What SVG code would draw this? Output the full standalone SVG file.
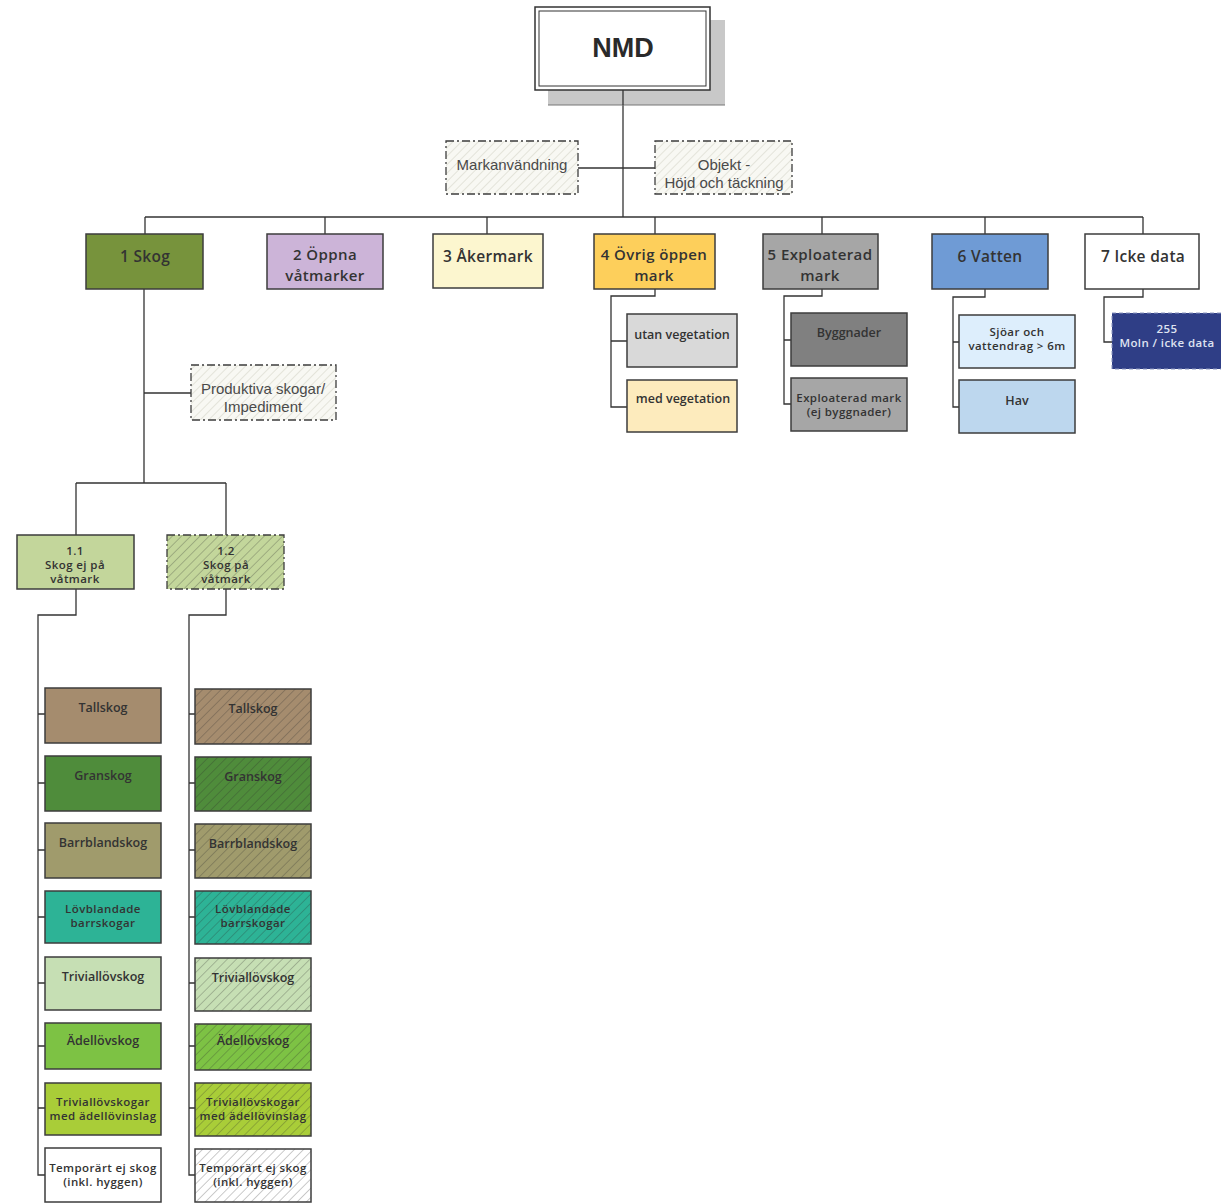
<svg xmlns="http://www.w3.org/2000/svg" width="1221" height="1203" viewBox="0 0 1221 1203">
<defs>
<pattern id="hatch" patternUnits="userSpaceOnUse" width="6.5" height="6.5" patternTransform="rotate(45)">
<line x1="0" y1="0" x2="0" y2="6.5" stroke="#2a2a2a" stroke-opacity="0.45" stroke-width="1.1"/>
</pattern>
<pattern id="hatchLight" patternUnits="userSpaceOnUse" width="6" height="6" patternTransform="rotate(45)">
<line x1="0" y1="0" x2="0" y2="6" stroke="#cfcfc2" stroke-width="1"/>
</pattern>
<style>
.box{stroke:#3d3d3d;stroke-width:1.5}
.dd{stroke:#3d3d3d;stroke-width:1.3;stroke-dasharray:8 3 2 3;fill:none}
.conn{fill:none;stroke:#333;stroke-width:1.3}
.top{font-family:"Open Sans","DejaVu Sans",sans-serif;font-weight:600;font-size:15.5px;letter-spacing:0.3px;fill:#333;text-anchor:middle}
.top2{font-family:"Open Sans","DejaVu Sans",sans-serif;font-weight:600;font-size:15px;letter-spacing:0.4px;fill:#333;text-anchor:middle}
.sub{font-family:"Open Sans","DejaVu Sans",sans-serif;font-weight:600;font-size:12.5px;fill:#333;text-anchor:middle}
.sm{font-family:"Open Sans","DejaVu Sans",sans-serif;font-weight:600;font-size:11.5px;letter-spacing:0.4px;fill:#333;text-anchor:middle}
.ann{font-family:"Liberation Sans",Arial,sans-serif;font-size:15px;fill:#4a4a4a;text-anchor:middle}
.lt{fill:#dfe3f1}
</style>
</defs>
<rect width="1221" height="1203" fill="#ffffff"/>

<g id="connectors">
<path class="conn" d="M623,90 V217"/>
<path class="conn" d="M578,168 H655"/>
<path class="conn" d="M145,217 H1143"/>
<path class="conn" d="M145,217 V234 M325,217 V234 M487,217 V234 M655,217 V234 M822,217 V234 M985,217 V234 M1143,217 V234"/>
<path class="conn" d="M144,289 V483 M144,393 H191 M76,483 H226 M76,483 V535 M226,483 V535"/>
<path class="conn" d="M655,289 V296 H611 V407 H627 M611,341 H627"/>
<path class="conn" d="M822,289 V296 H784 V404 H791 M784,340 H791"/>
<path class="conn" d="M985,289 V297 H953 V407 H959 M953,342 H959"/>
<path class="conn" d="M1143,289 V297 H1104 V342 H1112"/>
<path class="conn" d="M76,589 V615 H38 V1175 H45 M38,714 H45 M38,783 H45 M38,850 H45 M38,917 H45 M38,983 H45 M38,1046 H45 M38,1108 H45"/>
<path class="conn" d="M226,589 V615 H189 V1175 H195 M189,714 H195 M189,783 H195 M189,850 H195 M189,917 H195 M189,983 H195 M189,1046 H195 M189,1108 H195"/>
</g>

<g id="nmd">
<rect x="548" y="20" width="177" height="85" fill="#c8c8c8"/>
<line x1="548" y1="105" x2="725" y2="105" stroke="#777" stroke-width="1.2"/>
<rect x="535" y="7" width="175" height="83" fill="#fff" stroke="#333" stroke-width="1.5"/>
<rect x="539" y="11" width="167" height="75" fill="none" stroke="#333" stroke-width="1"/>
<text x="623" y="57" font-family="Liberation Sans,Arial,sans-serif" font-weight="bold" font-size="27" fill="#2a2a2a" text-anchor="middle">NMD</text>
<line x1="623" y1="90" x2="623" y2="105" stroke="#333" stroke-width="1.3"/>
</g>

<g id="markanvandning">
<rect x="446" y="141" width="132" height="53" fill="#f8f8f3"/>
<rect x="446" y="141" width="132" height="53" fill="url(#hatchLight)"/>
<rect x="446" y="141" width="132" height="53" class="dd"/>
<text class="ann" x="512" y="170">Markanvändning</text>
</g>
<g id="objekt">
<rect x="655" y="141" width="137" height="53" fill="#f8f8f3"/>
<rect x="655" y="141" width="137" height="53" fill="url(#hatchLight)"/>
<rect x="655" y="141" width="137" height="53" class="dd"/>
<text class="ann" x="724" y="170">Objekt -</text>
<text class="ann" x="724" y="188">Höjd och täckning</text>
</g>

<g id="n1"><rect class="box" x="86" y="234" width="117" height="55" fill="#77933c"/><text class="top" x="145" y="262">1 Skog</text></g>
<g id="n2"><rect class="box" x="267" y="234" width="116" height="55" fill="#ccb4d8"/><text class="top2" x="325" y="260">2 Öppna</text><text class="top2" x="325" y="280.5">våtmarker</text></g>
<g id="n3"><rect class="box" x="433" y="234" width="110" height="54" fill="#fcf6cf"/><text class="top" x="488" y="262">3 Åkermark</text></g>
<g id="n4"><rect class="box" x="594" y="234" width="121" height="55" fill="#fdcf5b"/><text class="top2" x="654" y="260">4 Övrig öppen</text><text class="top2" x="654" y="280.5">mark</text></g>
<g id="n5"><rect class="box" x="763" y="234" width="115" height="55" fill="#a6a6a6"/><text class="top2" x="820" y="260">5 Exploaterad</text><text class="top2" x="820" y="280.5">mark</text></g>
<g id="n6"><rect class="box" x="932" y="234" width="116" height="55" fill="#6f9bd5"/><text class="top" x="990" y="262">6 Vatten</text></g>
<g id="n7"><rect class="box" x="1085" y="234" width="114" height="55" fill="#ffffff"/><text class="top" x="1143" y="262">7 Icke data</text></g>

<g id="utan"><rect class="box" x="627" y="314" width="110" height="53" fill="#d9d9d9"/><text class="sub" x="682" y="339">utan vegetation</text></g>
<g id="med"><rect class="box" x="627" y="380" width="110" height="52" fill="#fdebbd"/><text class="sub" x="683" y="403">med vegetation</text></g>
<g id="byggnader"><rect class="box" x="791" y="313" width="116" height="53" fill="#808080"/><text class="sub" x="849" y="337">Byggnader</text></g>
<g id="exploaterad"><rect class="box" x="791" y="378" width="116" height="53" fill="#a6a6a6"/><text class="sm" x="849" y="402" letter-spacing="0">Exploaterad mark</text><text class="sm" x="849" y="416">(ej byggnader)</text></g>
<g id="sjoar"><rect class="box" x="959" y="315" width="116" height="53" fill="#ddeefc"/><text class="sm" x="1017" y="336">Sjöar och</text><text class="sm" x="1017" y="350">vattendrag  &gt; 6m</text></g>
<g id="hav"><rect class="box" x="959" y="380" width="116" height="53" fill="#bdd7ee"/><text class="sub" x="1017" y="405">Hav</text></g>
<g id="n255"><rect x="1112" y="313" width="112" height="56" fill="#2f3e86" stroke="#8c96c0" stroke-width="1" stroke-dasharray="4 3"/><text class="sm lt" x="1167" y="333">255</text><text class="sm lt" x="1167" y="347" letter-spacing="0">Moln / icke data</text></g>

<g id="produktiva">
<rect x="191" y="365" width="145" height="55" fill="#f8f8f3"/>
<rect x="191" y="365" width="145" height="55" fill="url(#hatchLight)"/>
<rect x="191" y="365" width="145" height="55" class="dd"/>
<text class="ann" x="263" y="394">Produktiva skogar/</text>
<text class="ann" x="263" y="412">Impediment</text>
</g>

<g id="n11"><rect class="box" x="17" y="535" width="117" height="54" fill="#c3d69b"/><text class="sm" x="75" y="555">1.1</text><text class="sm" x="75" y="569">Skog ej på</text><text class="sm" x="75" y="583">våtmark</text></g>
<g id="n12"><rect x="167" y="535" width="117" height="54" fill="#c3d69b"/><rect x="167" y="535" width="117" height="54" fill="url(#hatch)"/><rect x="167" y="535" width="117" height="54" class="dd"/><text class="sm" x="226" y="555">1.2</text><text class="sm" x="226" y="569">Skog på</text><text class="sm" x="226" y="583">våtmark</text></g>

<g id="l-tall"><rect class="box" x="45" y="688" width="116" height="55" fill="#a58c6e"/><text class="sub" x="103" y="712">Tallskog</text></g>
<g id="l-gran"><rect class="box" x="45" y="756" width="116" height="55" fill="#4f8c3b"/><text class="sub" x="103" y="780">Granskog</text></g>
<g id="l-barr"><rect class="box" x="45" y="823" width="116" height="55" fill="#a09b6c"/><text class="sub" x="103" y="847">Barrblandskog</text></g>
<g id="l-lov"><rect class="box" x="45" y="891" width="116" height="52" fill="#2db396"/><text class="sm" x="103" y="913">Lövblandade</text><text class="sm" x="103" y="927">barrskogar</text></g>
<g id="l-triv"><rect class="box" x="45" y="957" width="116" height="53" fill="#c6dfb4"/><text class="sub" x="103" y="981">Triviallövskog</text></g>
<g id="l-adel"><rect class="box" x="45" y="1023" width="116" height="46" fill="#7dc244"/><text class="sub" x="103" y="1045">Ädellövskog</text></g>
<g id="l-trivmed"><rect class="box" x="45" y="1083" width="116" height="52" fill="#a9cd38"/><text class="sm" x="103" y="1106" letter-spacing="0">Triviallövskogar</text><text class="sm" x="103" y="1120" letter-spacing="0">med ädellövinslag</text></g>
<g id="l-temp"><rect class="box" x="45" y="1148" width="116" height="54" fill="#ffffff"/><text class="sm" x="103" y="1172" letter-spacing="0">Temporärt ej skog</text><text class="sm" x="103" y="1186">(inkl. hyggen)</text></g>

<g id="r-tall"><rect x="195" y="689" width="116" height="55" fill="#a58c6e"/><rect class="box" x="195" y="689" width="116" height="55" fill="url(#hatch)"/><text class="sub" x="253" y="713">Tallskog</text></g>
<g id="r-gran"><rect x="195" y="757" width="116" height="54" fill="#4f8c3b"/><rect class="box" x="195" y="757" width="116" height="54" fill="url(#hatch)"/><text class="sub" x="253" y="781">Granskog</text></g>
<g id="r-barr"><rect x="195" y="824" width="116" height="54" fill="#a09b6c"/><rect class="box" x="195" y="824" width="116" height="54" fill="url(#hatch)"/><text class="sub" x="253" y="848">Barrblandskog</text></g>
<g id="r-lov"><rect x="195" y="891" width="116" height="53" fill="#2db396"/><rect class="box" x="195" y="891" width="116" height="53" fill="url(#hatch)"/><text class="sm" x="253" y="913">Lövblandade</text><text class="sm" x="253" y="927">barrskogar</text></g>
<g id="r-triv"><rect x="195" y="958" width="116" height="53" fill="#c6dfb4"/><rect class="box" x="195" y="958" width="116" height="53" fill="url(#hatch)"/><text class="sub" x="253" y="982">Triviallövskog</text></g>
<g id="r-adel"><rect x="195" y="1024" width="116" height="46" fill="#7dc244"/><rect class="box" x="195" y="1024" width="116" height="46" fill="url(#hatch)"/><text class="sub" x="253" y="1045">Ädellövskog</text></g>
<g id="r-trivmed"><rect x="195" y="1083" width="116" height="53" fill="#a9cd38"/><rect class="box" x="195" y="1083" width="116" height="53" fill="url(#hatch)"/><text class="sm" x="253" y="1106" letter-spacing="0">Triviallövskogar</text><text class="sm" x="253" y="1120" letter-spacing="0">med ädellövinslag</text></g>
<g id="r-temp"><rect x="195" y="1149" width="116" height="53" fill="#ffffff"/><rect class="box" x="195" y="1149" width="116" height="53" fill="url(#hatch)"/><text class="sm" x="253" y="1172" letter-spacing="0">Temporärt ej skog</text><text class="sm" x="253" y="1186">(inkl. hyggen)</text></g>
</svg>
